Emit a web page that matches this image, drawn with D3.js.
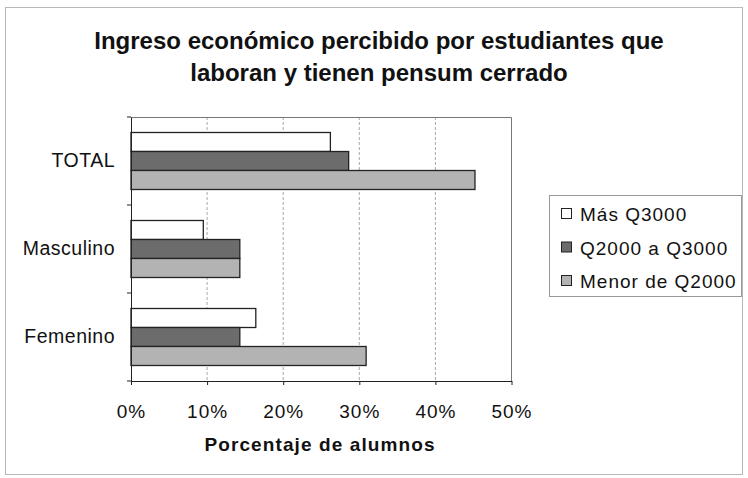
<!DOCTYPE html>
<html><head><meta charset="utf-8">
<script src="https://cdn.jsdelivr.net/npm/d3@7/dist/d3.min.js"></script>
<style>body{margin:0;background:#fff}svg{display:block}text{font-family:"Liberation Sans",Arial,sans-serif;fill:#111}</style>
</head><body><svg id="c" width="748" height="478"></svg>
<script>
const categories = ["TOTAL", "Masculino", "Femenino"];
const seriesNames = ["Más Q3000", "Q2000 a Q3000", "Menor de Q2000"];
const masQ3000 = [26.2, 9.5, 16.4];
const q2000aQ3000 = [28.6, 14.3, 14.3];
const menorQ2000 = [45.2, 14.3, 30.9];
const tickValues = [0, 10, 20, 30, 40, 50];
const titleLines = ["Ingreso económico percibido por estudiantes que", "laboran y tienen pensum cerrado"];
const xTitle = "Porcentaje de alumnos";

const seriesValues = [masQ3000, q2000aQ3000, menorQ2000];
const fills = ["#ffffff", "#6c6c6c", "#b3b3b3"];
const FONT = '"Liberation Sans",Arial,sans-serif';

const svg = d3.select("#c");
svg.append("rect").attr("x", 5.5).attr("y", 7.5).attr("width", 737).attr("height", 467)
  .attr("fill", "none").attr("stroke", "#b8b8b8");

const pL = 131, pR = 511.5, pT = 117, pB = 381;
const x = d3.scaleLinear().domain([0, 50]).range([pL, pR]);
const y = d3.scaleBand().domain(categories).range([pT, pB]);
const inner = d3.scaleBand().domain(seriesNames).range([0, 57]);
const offset = (y.bandwidth() - 57) / 2;

// gridlines
svg.append("g").selectAll("line").data(tickValues.slice(1, -1)).join("line")
  .attr("x1", d => x(d)).attr("x2", d => x(d)).attr("y1", pT).attr("y2", pB)
  .attr("stroke", "#a8a8a8").attr("stroke-dasharray", "3,2");
// plot frame top/right
svg.append("path").attr("d", `M${pL},${pT + 0.5}H${pR}V${pB}`).attr("fill", "none").attr("stroke", "#777");

// bars
categories.forEach((c, ci) => {
  seriesNames.forEach((s, si) => {
    svg.append("rect")
      .attr("x", x(0)).attr("y", y(c) + offset + inner(s))
      .attr("width", x(seriesValues[si][ci]) - x(0)).attr("height", inner.bandwidth())
      .attr("fill", fills[si]).attr("stroke", "#222").attr("stroke-width", 1.3);
  });
});

// axes
const xa = svg.append("g").attr("transform", `translate(0,${pB})`)
  .call(d3.axisBottom(x).tickValues(tickValues).tickFormat(d => d + "%").tickSize(4).tickSizeOuter(0));
xa.select(".domain").attr("stroke", "#222");
xa.selectAll(".tick line").attr("stroke", "#222");
xa.selectAll(".tick text").attr("font-size", 19).attr("letter-spacing", 1).attr("dy", 0).attr("y", 37)
  .style("font-family", FONT).attr("fill", "#111");

const ya = svg.append("g").attr("transform", `translate(${pL},0)`)
  .call(d3.axisLeft(y).tickSize(0).tickPadding(16));
ya.select(".domain").attr("stroke", "#222");
ya.selectAll(".tick text").attr("font-size", 19.5).attr("letter-spacing", 0.5)
  .style("font-family", FONT).attr("fill", "#111");
// category boundary ticks
svg.append("g").selectAll("line").data(categories.concat([null])).join("line")
  .attr("x1", pL - 4).attr("x2", pL)
  .attr("y1", (d, i) => i < categories.length ? y(d) : pB)
  .attr("y2", (d, i) => i < categories.length ? y(d) : pB)
  .attr("stroke", "#222");

// titles
svg.append("g").selectAll("text").data(titleLines).join("text")
  .attr("x", 379).attr("y", (d, i) => 49 + i * 32).attr("text-anchor", "middle")
  .attr("font-size", 24).attr("font-weight", "bold").text(d => d);
svg.append("text").attr("x", 320).attr("y", 451).attr("text-anchor", "middle")
  .attr("font-size", 19).attr("font-weight", "bold").attr("letter-spacing", 1.1).text(xTitle);

// legend
const lg = svg.append("g");
lg.append("rect").attr("x", 549.5).attr("y", 195.5).attr("width", 192).attr("height", 101)
  .attr("fill", "#fff").attr("stroke", "#999");
seriesNames.forEach((s, i) => {
  const cy = 214 + i * 33.5;
  lg.append("rect").attr("x", 561.5).attr("y", cy - 5.5).attr("width", 10).attr("height", 10)
    .attr("fill", fills[i]).attr("stroke", "#222");
  lg.append("text").attr("x", 580).attr("y", cy + 7).attr("font-size", 19).attr("letter-spacing", 1).text(s);
});
</script></body></html>
